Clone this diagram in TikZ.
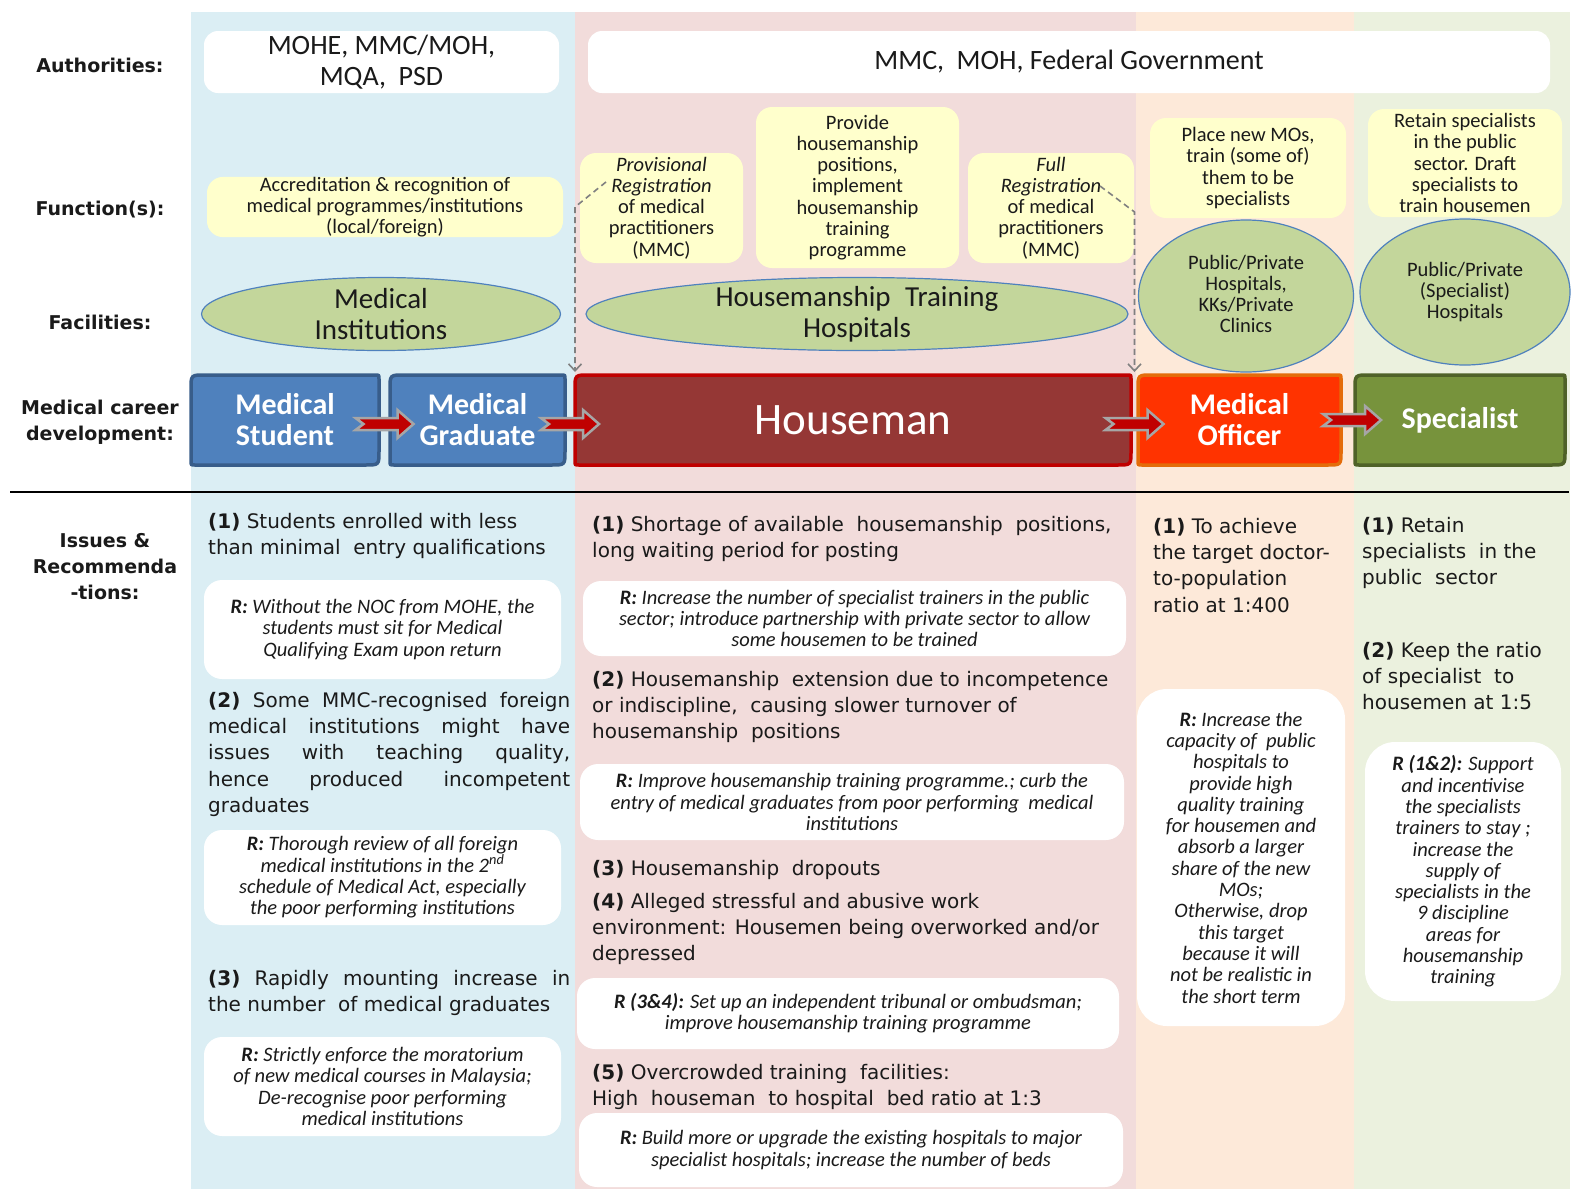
\documentclass[tikz,border=0pt]{standalone}
\usepackage{fontspec}
\setmainfont{DejaVu Sans}
\newfontfamily\carl{Carlito}
\usetikzlibrary{calc,arrows.meta}
\definecolor{bgblue}{HTML}{DBEEF4}
\definecolor{bgpink}{HTML}{F2DCDB}
\definecolor{bgpeach}{HTML}{FDE9D9}
\definecolor{bggreen}{HTML}{EBF1DE}
\definecolor{funcy}{HTML}{FFFFCC}
\definecolor{ellg}{HTML}{C3D69B}
\definecolor{ellb}{HTML}{4F81BD}
\definecolor{stublue}{HTML}{4F81BD}
\definecolor{stuborder}{HTML}{385D8A}
\definecolor{hmfill}{HTML}{953735}
\definecolor{hmborder}{HTML}{C00000}
\definecolor{mofill}{HTML}{FF3300}
\definecolor{moborder}{HTML}{E46C0A}
\definecolor{spfill}{HTML}{77933C}
\definecolor{spborder}{HTML}{4F6228}
\definecolor{arrred}{HTML}{C00000}
\definecolor{arrgray}{HTML}{A6A6A6}
\definecolor{txt}{HTML}{1A1A1A}
\newcommand{\fsz}[2]{\fontsize{#1}{#2}\selectfont}
\newcommand{\careerbox}[9]{%
  \path[fill=#6, draw=#7, line width=3.5pt] (#2,{#3+14}) .. controls (#2,#3) .. ({#2+14},#3) -- ({#4-4},#3) .. controls (#4,#3) .. (#4,{#3+4}) -- (#4,{#5-14}) .. controls (#4,#5) .. ({#4-14},#5) -- ({#2+4},#5) .. controls (#2,#5) .. (#2,{#5-4}) -- cycle;
  \node[inner sep=0pt, outer sep=0pt, minimum width={#4pt-#2pt}, minimum height={#5pt-#3pt}, align=center, text=white, font=#8] (#1) at ({(#2+#4)/2},{(#3+#5)/2}) {#9};}
\begin{document}
\begin{tikzpicture}[x=1pt,y=-1pt,
  lbl/.style={font=\bfseries\fsz{19}{26}, align=center, inner sep=0pt, text=txt},
  authbox/.style={fill=white, rounded corners=14pt, inner sep=0pt, align=center, font=\carl\fsz{28}{31}, text=txt},
  funcbox/.style={fill=funcy, rounded corners=16pt, inner sep=0pt, align=center, font=\carl\fsz{20.5}{21.2}, text=txt},
  elltext/.style={inner sep=0pt, align=center, text=txt},
  ellshape/.style={fill=ellg, draw=ellb, line width=1.2pt},
  issue/.style={anchor=north west, inner sep=0pt, align=left, font=\fsz{20}{26.2}, text=txt},
  rbox/.style={fill=white, rounded corners=18pt, inner sep=0pt, align=center, font=\carl\itshape\fsz{20.5}{21.3}, text=txt},
  dasharr/.style={draw=gray, dash pattern=on 6pt off 4pt, line width=1.6pt, -{Straight Barb[length=7pt,width=13pt]}},
  blockarr/.pic={\path[fill=arrred, draw=arrgray, line width=2.5pt, line join=miter] (-29,-6) -- (13,-6) -- (13,-14) -- (29,0) -- (13,14) -- (13,6) -- (-29,6) -- (-21,0) -- cycle;}
]
\useasboundingbox (0,0) rectangle (1577,1189);
\fill[white] (0,0) rectangle (1577,1189);
% column backgrounds
\fill[bgblue] (191,12) rectangle (575,1189);
\fill[bgpink] (575,12) rectangle (1136,1189);
\fill[bgpeach] (1136,12) rectangle (1354,1189);
\fill[bggreen] (1354,12) rectangle (1570,1189);

% row labels
\node[lbl] (lauth) at (100,65) {Authorities:};
\node[lbl] (lfunc) at (100,210) {Function(s):};
\node[lbl] (lfac) at (100,322) {Facilities:};
\node[lbl] (lcar) at (100,422) {Medical career\\development:};
\node[lbl] (liss) at (105,567) {Issues \&\\Recommenda\\-tions:};

% authorities
\node[authbox, minimum width=355pt, minimum height=62pt] (auth1) at (381.5,62) {MOHE, MMC/MOH,\\MQA, \ PSD};
\node[authbox, minimum width=962pt, minimum height=62pt] (auth2) at (1069,62) {MMC, \ MOH, Federal Government};

% functions
\node[funcbox, minimum width=356pt, minimum height=60pt] (facc) at (385,207) {Accreditation \& recognition of\\medical programmes/institutions\\(local/foreign)};
\node[funcbox, minimum width=163pt, minimum height=110pt] (fprov) at (661.5,208) {\textit{Provisional}\\\textit{Registration}\\of medical\\practitioners\\(MMC)};
\node[funcbox, minimum width=203pt, minimum height=161pt] (fprovide) at (857.5,187.5) {Provide\\housemanship\\positions,\\implement\\housemanship\\training\\programme};
\node[funcbox, minimum width=166pt, minimum height=110pt] (ffull) at (1051,208) {\textit{Full}\\\textit{Registration}\\of medical\\practitioners\\(MMC)};
\node[funcbox, minimum width=196pt, minimum height=100pt] (fplace) at (1248,168) {Place new MOs,\\train (some of)\\them to be\\specialists};
\node[funcbox, minimum width=194pt, minimum height=108pt] (fretain) at (1465,163) {Retain specialists\\in the public\\sector. Draft\\specialists to\\train housemen};

% facilities
\path[ellshape] (381,314) ellipse [x radius=179.5pt, y radius=36.5pt];
\node[elltext, font=\carl\fsz{29}{31}] (emed) at (381,314) {Medical\\Institutions};
\path[ellshape] (857,314) ellipse [x radius=271pt, y radius=36.5pt];
\node[elltext, font=\carl\fsz{29}{31}] (ehth) at (857,314) {Housemanship\enspace Training\\Hospitals};
\path[ellshape] (1246,296) ellipse [x radius=107.5pt, y radius=76pt];
\node[elltext, font=\carl\fsz{20.5}{21.2}] (epub) at (1246,294) {Public/Private\\Hospitals,\\KKs/Private\\Clinics};
\path[ellshape] (1465,292) ellipse [x radius=105pt, y radius=73pt];
\node[elltext, font=\carl\fsz{20.5}{21.2}] (espec) at (1465,292) {Public/Private\\(Specialist)\\Hospitals};

% career boxes
\careerbox{stud}{191}{375}{379}{465}{stublue}{stuborder}{\carl\bfseries\fsz{30}{31}}{Medical\\Student}
\careerbox{grad}{390}{375}{565}{465}{stublue}{stuborder}{\carl\bfseries\fsz{30}{31}}{Medical\\Graduate}
\careerbox{hm}{575}{375}{1131}{465}{hmfill}{hmborder}{\carl\fsz{45}{46}}{Houseman}
\careerbox{mo}{1138}{375}{1341}{465}{mofill}{moborder}{\carl\bfseries\fsz{30}{31}}{Medical\\Officer}
\careerbox{spec}{1355}{375}{1565}{465}{spfill}{spborder}{\carl\bfseries\fsz{30}{31}}{Specialist}

% registration dashed arrows
\coordinate (pv1) at (606,182);
\draw[dasharr] (pv1) -- ++(-31,25) -- ($(hm.north west)+(0,-3)$);
\coordinate (pf1) at (1100,186);
\coordinate (pf2) at ($(hm.north east)!0.5!(mo.north west)+(0,-3)$);
\draw[dasharr] (pf1) -- ++(34.5,26) -- (pf2);

% block arrows
\pic at ($(stud.east)!0.5!(grad.west)+(0,4)$) {blockarr};
\pic at ($(grad.east)!0.5!(hm.west)+(0,4)$) {blockarr};
\pic at ($(hm.east)!0.5!(mo.west)+(0,4)$) {blockarr};
\pic at ($(mo.east)!0.5!(spec.west)+(4,0)$) {blockarr};

% separator
\draw[line width=2pt, black] (10,492) -- (1569,492);

% ---- blue column issues
\node[issue] (b1) at (208,513) {\textbf{(1)} Students enrolled with less\\than minimal \ entry qualifications};
\node[rbox, minimum width=357pt, minimum height=99pt] (br1) at (382.5,629.5) {\textbf{R:} Without the NOC from MOHE, the\\students must sit for Medical\\Qualifying Exam upon return};
\node[issue] (b2) at (208,692) {\makebox[362pt][s]{\textbf{(2)} Some MMC-recognised foreign}\\\makebox[362pt][s]{medical institutions might have}\\\makebox[362pt][s]{issues with teaching quality,}\\\makebox[362pt][s]{hence produced incompetent}\\graduates};
\node[rbox, minimum width=357pt, minimum height=95pt] (br2) at (382.5,877.5) {\textbf{R:} Thorough review of all foreign\\medical institutions in the 2\textsuperscript{nd}\\schedule of Medical Act, especially\\the poor performing institutions};
\node[issue] (b3) at (208,970) {\makebox[362pt][s]{\textbf{(3)} Rapidly mounting increase in}\\the number \ of medical graduates};
\node[rbox, minimum width=357pt, minimum height=99pt] (br3) at (382.5,1086.5) {\textbf{R:} Strictly enforce the moratorium\\of new medical courses in Malaysia;\\De-recognise poor performing\\medical institutions};

% ---- pink column issues
\node[issue] (p1) at (592,516) {\textbf{(1)} Shortage of available \ housemanship \ positions,\\long waiting period for posting};
\node[rbox, minimum width=543pt, minimum height=75pt] (pr1) at (854.5,618.5) {\textbf{R:} Increase the number of specialist trainers in the public\\sector; introduce partnership with private sector to allow\\some housemen to be trained};
\node[issue] (p2) at (592,671) {\textbf{(2)} Housemanship \ extension due to incompetence\\or indiscipline, \ causing slower turnover of\\housemanship \ positions};
\node[rbox, minimum width=544pt, minimum height=76pt] (pr2) at (852,802) {\textbf{R:} Improve housemanship training programme.; curb the\\entry of medical graduates from poor performing \ medical\\institutions};
\node[issue] (p3) at (592,860) {\textbf{(3)} Housemanship \ dropouts};
\node[issue] (p4) at (592,893) {\textbf{(4)} Alleged stressful and abusive work\\environment: Housemen being overworked and/or\\depressed};
\node[rbox, minimum width=542pt, minimum height=71pt] (pr34) at (848,1013.5) {\textbf{R (3\&4):} Set up an independent tribunal or ombudsman;\\improve housemanship training programme};
\node[issue] (p5) at (592,1064) {\textbf{(5)} Overcrowded training \ facilities:\\High \ houseman \ to hospital \ bed ratio at 1:3};
\node[rbox, minimum width=544pt, minimum height=74pt] (pr5) at (851,1150) {\textbf{R:} Build more or upgrade the existing hospitals to major\\specialist hospitals; increase the number of beds};

% ---- peach column
\node[issue] (o1) at (1153,518) {\textbf{(1)} To achieve\\the target doctor-\\to-population\\ratio at 1:400};
\node[rbox, rounded corners=30pt, minimum width=208pt, minimum height=337pt] (or1) at (1241,857.5) {\textbf{R:} Increase the\\capacity of \ public\\hospitals to\\provide high\\quality training\\for housemen and\\absorb a larger\\share of the new\\MOs;\\Otherwise, drop\\this target\\because it will\\not be realistic in\\the short term};

% ---- green column
\node[issue] (s1) at (1362,517) {\textbf{(1)} Retain\\specialists \ in the\\public \ sector};
\node[issue] (s2) at (1362,642) {\textbf{(2)} Keep the ratio\\of specialist \ to\\housemen at 1:5};
\node[rbox, rounded corners=30pt, minimum width=196pt, minimum height=259pt] (sr1) at (1463,871.5) {\textbf{R (1\&2):} Support\\and incentivise\\the specialists\\trainers to stay ;\\increase the\\supply of\\specialists in the\\9 discipline\\areas for\\housemanship\\training};
\end{tikzpicture}
\end{document}
